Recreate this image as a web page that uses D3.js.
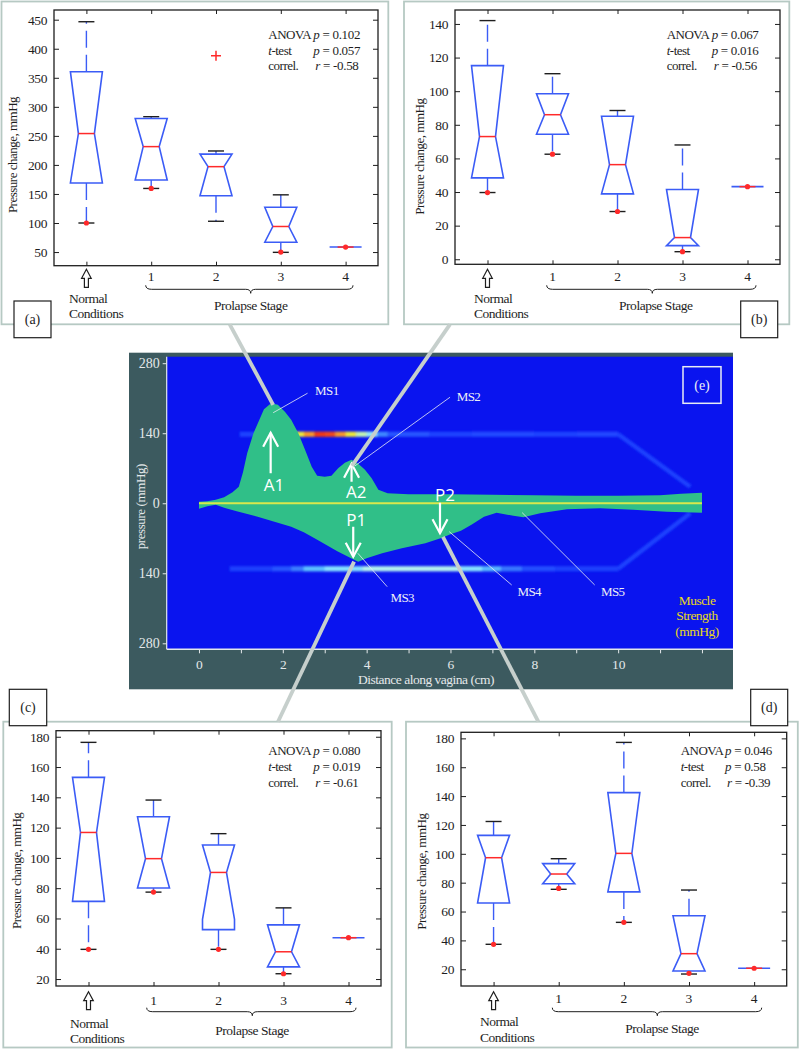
<!DOCTYPE html>
<html><head><meta charset="utf-8">
<script src="https://cdn.jsdelivr.net/npm/d3@7"></script>
<style>body{margin:0;background:#fff} svg{display:block}</style>
</head><body><svg id="fig" width="799" height="1050"></svg>
<script>
// ---------------- DATA ----------------
const catKeys = ["N", "1", "2", "3", "4"];
const catLabels = ["", "1", "2", "3", "4"];
const statNames = ["ANOVA", "t-test", "correl."];

// panel (a)
const aLow = [100, 159.5, 103, 49.5, 58.6];
const aQ1 = [169, 174, 147, 67, 58.6];
const aMed = [254, 231.5, 197, 94, 58.6];
const aQ3 = [360.5, 280, 218.5, 127, 58.6];
const aHigh = [446.5, 283, 224, 148.5, 58.6];
const aNotchLo = [169, 174, 147, 67, 58.6];
const aNotchHi = [360.5, 280, 218.5, 127, 58.6];
const aDotCat = [0, 1, 3, 4];
const aDotVal = [100, 159.5, 50, 58.6];
const aOutCat = [2];
const aOutVal = [388];
const aTicks = [50, 100, 150, 200, 250, 300, 350, 400, 450];
const aStats = ["0.102", "0.057", "-0.58"];

// panel (b)
const bLow = [39.7, 62.5, 28.4, 4.5, 43.2];
const bQ1 = [48.4, 74.4, 38.9, 8.1, 43.2];
const bMed = [73, 86, 56.3, 12.9, 43.2];
const bQ3 = [115.2, 98.5, 85.1, 41.5, 43.2];
const bHigh = [142, 110.4, 88.5, 68, 43.2];
const bNotchLo = [48.4, 74.4, 38.9, 8.1, 43.2];
const bNotchHi = [115.2, 98.5, 85.1, 41.5, 43.2];
const bDotCat = [0, 1, 2, 3, 4];
const bDotVal = [39.7, 62.5, 28.4, 4.5, 43.2];
const bOutCat = [];
const bOutVal = [];
const bTicks = [0, 20, 40, 60, 80, 100, 120, 140];
const bStats = ["0.067", "0.016", "-0.56"];

// panel (c)
const cLow = [39.6, 77.4, 39.6, 23.5, 47.3];
const cQ1 = [71.3, 80.1, 52.6, 28, 47.3];
const cMed = [116.8, 99.5, 90.4, 38, 47.3];
const cQ3 = [153.2, 127.2, 108.5, 55.8, 47.3];
const cHigh = [176.3, 138.2, 116, 67, 47.3];
const cNotchLo = [71.3, 80.1, 59.4, 28, 47.3];
const cNotchHi = [153.2, 127.2, 108.5, 55.8, 47.3];
const cDotCat = [0, 1, 2, 3, 4];
const cDotVal = [39.6, 77.4, 39.6, 23.5, 47.3];
const cOutCat = [];
const cOutVal = [];
const cTicks = [20, 40, 60, 80, 100, 120, 140, 160, 180];
const cStats = ["0.080", "0.019", "-0.61"];

// panel (d)
const dLow = [37.3, 75.4, 52.5, 16.7, 20.7];
const dQ1 = [65.9, 79.3, 73.6, 18.8, 20.7];
const dMed = [97.3, 86, 100.3, 30.8, 20.7];
const dQ3 = [112.8, 93.2, 142.4, 57.1, 20.7];
const dHigh = [122.4, 96.6, 177.2, 74.9, 20.7];
const dNotchLo = [65.9, 79.3, 73.6, 18.8, 20.7];
const dNotchHi = [112.8, 93.2, 142.4, 57.1, 20.7];
const dDotCat = [0, 1, 2, 3, 4];
const dDotVal = [37.3, 76, 52.5, 17.2, 20.7];
const dOutCat = [];
const dOutVal = [];
const dTicks = [20, 40, 60, 80, 100, 120, 140, 160, 180];
const dStats = ["0.046", "0.58", "-0.39"];

// panel (e): pressure profile along the vagina
const upperDist = [0, 0.2, 0.4, 0.6, 0.8, 0.95, 1.05, 1.15, 1.3, 1.42, 1.55, 1.72, 1.88, 2.05, 2.2, 2.37, 2.53, 2.69, 2.82, 3.0, 3.16, 3.32, 3.48, 3.64, 3.8, 3.96, 4.12, 4.28, 4.5, 5.0, 6.0, 7.0, 8.0, 9.0, 10.0, 11.0, 11.5, 12.0];
const upperP = [3, 4, 7, 12, 22, 33, 62, 100, 140, 163, 188, 200, 197, 183, 167, 140, 107, 73, 55, 53, 55, 70, 81, 87, 79, 67, 50, 27, 20, 18, 18, 17, 16, 15, 15, 16, 19, 21];
const lowerDist = [0, 0.2, 0.4, 0.6, 0.9, 1.4, 1.8, 2.2, 2.5, 2.8, 3.3, 3.7, 3.8, 4.0, 4.37, 4.84, 5.4, 5.8, 6.0, 6.25, 6.5, 6.8, 7.1, 7.5, 7.74, 8.14, 8.78, 9.57, 10.36, 11.16, 12.0];
const lowerP = [-11, -6, -3, -9, -16, -27, -37, -47, -58, -72, -96, -113, -117, -110, -100, -90, -80, -69, -62, -55, -43, -27, -19, -25, -28, -20, -12, -10, -13, -17, -19];

// muscle strength bands (cm start, strength)
const upperBandStart = [0.97, 2.25, 2.5, 2.75, 3.0, 3.25, 3.5, 3.75, 4.0, 4.25, 4.5, 5.5, 6.5, 8.0, 9.0];
const upperBandValue = [13, 100, 118, 138, 135, 118, 100, 78, 58, 32, 18, 13, 15, 13, 14];
const lowerBandStart = [0.73, 1.75, 2.2, 2.5, 3.0, 3.9, 6.25, 6.75, 7.2, 7.7, 8.5];
const lowerBandValue = [12, 18, 30, 46, 56, 64, 56, 44, 28, 16, 12];
const bandEnd = 10;

const eXTicks = [0, 1, 2, 3, 4, 5, 6, 7, 8, 9, 10, 11, 12];
const eXLabels = [0, 2, 4, 6, 8, 10];
const eYTicks = [280, 140, 0, -140, -280];

const arrowLabels = ["A1", "A2", "P1", "P2"];
const arrowDist = [1.71, 3.64, 3.68, 5.75];
const arrowFrom = [60, 43, -47, 1];
const arrowTo = [141, 79, -107, -60];
const arrowLabelDist = [1.79, 3.75, 3.75, 5.87];
const arrowLabelP = [37, 23, -33, 17];

const msLabels = ["MS1", "MS2", "MS3", "MS4", "MS5"];
const msLabelDist = [2.77, 6.15, 4.57, 7.6, 9.59];
const msLabelP = [224.6, 213, -188.8, -175.4, -175.4];
const msFromDist = [2.59, 5.99, 4.49, 7.46, 9.44];
const msFromP = [220, 212, -166.8, -163.4, -163.4];
const msToDist = [1.77, 3.72, 3.79, 5.97, 7.71];
const msToP = [181, 74.6, -100, -56.8, -18.8];

const connDist = [1.77, 3.65, 3.7, 5.82];
const connP = [196.6, 74.6, -116.8, -67.4];

// ---------------- DRAWING ----------------
const SERIF = "'Liberation Serif','Times New Roman',serif";
const svg = d3.select("#fig");
svg.append("rect").attr("width", 799).attr("height", 1050).attr("fill", "#fff");
const defs = svg.append("defs");
defs.append("filter").attr("id", "soft").attr("x", "-5%").attr("y", "-100%").attr("width", "110%").attr("height", "300%")
  .append("feGaussianBlur").attr("stdDeviation", 0.8);

const BOXBLUE = "#3b5cf6", RED = "#ff2a2a", INK = "#1e1e1e";

function boxPanel(P, L) {
  const g = svg.append("g").attr("font-family", SERIF);
  g.append("rect").attr("x", L.frame[0]).attr("y", L.frame[1])
    .attr("width", L.frame[2] - L.frame[0]).attr("height", L.frame[3] - L.frame[1])
    .attr("fill", "none").attr("stroke", "#b6c9c3").attr("stroke-width", 1.8);
  const [l, t, r, b] = L.plot;
  const x = d3.scalePoint().domain(catKeys).range([l, r]).padding(0.5);
  const y = d3.scaleLinear().domain(L.yDomain).range([b, t]);

  const axL = g.append("g").attr("transform", `translate(${l},0)`)
    .call(d3.axisLeft(y).tickValues(P.ticks).tickSizeInner(-5).tickSizeOuter(0).tickPadding(7));
  const axR = g.append("g").attr("transform", `translate(${r},0)`)
    .call(d3.axisRight(y).tickValues(P.ticks).tickSizeInner(-5).tickSizeOuter(0).tickFormat(""));
  const axT = g.append("g").attr("transform", `translate(0,${t})`)
    .call(d3.axisTop(x).tickSizeInner(-4).tickSizeOuter(0).tickFormat(""));
  const axB = g.append("g").attr("transform", `translate(0,${b})`)
    .call(d3.axisBottom(x).tickSizeInner(-4).tickSizeOuter(0).tickFormat(""));
  [axL, axR, axT, axB].forEach(a => {
    a.select(".domain").remove();
    a.selectAll("line").attr("stroke", INK).attr("stroke-width", 1);
    a.selectAll("text").attr("font-family", SERIF).attr("font-size", 13.5).attr("fill", INK).attr("letter-spacing", -0.4);
  });
  g.append("rect").attr("x", l).attr("y", t).attr("width", r - l).attr("height", b - t)
    .attr("fill", "none").attr("stroke", INK).attr("stroke-width", 1.3);

  // category labels
  catKeys.forEach((k, i) => {
    if (catLabels[i]) g.append("text").attr("x", x(k)).attr("y", L.xLabY).attr("text-anchor", "middle")
      .attr("font-size", 13.5).attr("fill", INK).text(catLabels[i]);
  });

  // boxes
  const hw = 16, nw = 8, cw = 8;
  catKeys.forEach((k, i) => {
    const cx = x(k);
    const q1 = y(P.q1[i]), q3 = y(P.q3[i]), md = y(P.med[i]), nl = y(P.nlo[i]), nh = y(P.nhi[i]);
    const hi = y(P.high[i]), lo = y(P.low[i]);
    // whiskers
    if (P.high[i] > P.q3[i]) {
      g.append("line").attr("x1", cx).attr("x2", cx).attr("y1", q3).attr("y2", hi)
        .attr("stroke", BOXBLUE).attr("stroke-width", 1.4).attr("stroke-dasharray", "17,7");
      g.append("line").attr("x1", cx - cw).attr("x2", cx + cw).attr("y1", hi).attr("y2", hi)
        .attr("stroke", INK).attr("stroke-width", 1.4);
    }
    if (P.low[i] < P.q1[i]) {
      g.append("line").attr("x1", cx).attr("x2", cx).attr("y1", q1).attr("y2", lo)
        .attr("stroke", BOXBLUE).attr("stroke-width", 1.4).attr("stroke-dasharray", "17,7");
      g.append("line").attr("x1", cx - cw).attr("x2", cx + cw).attr("y1", lo).attr("y2", lo)
        .attr("stroke", INK).attr("stroke-width", 1.4);
    }
    const pts = [[cx - hw, q3], [cx + hw, q3], [cx + hw, nh], [cx + nw, md], [cx + hw, nl], [cx + hw, q1],
                 [cx - hw, q1], [cx - hw, nl], [cx - nw, md], [cx - hw, nh]];
    g.append("path").attr("d", d3.line()(pts) + "Z").attr("fill", "none")
      .attr("stroke", BOXBLUE).attr("stroke-width", 1.6).attr("stroke-linejoin", "miter");
    g.append("line").attr("x1", cx - nw).attr("x2", cx + nw).attr("y1", md).attr("y2", md)
      .attr("stroke", RED).attr("stroke-width", 1.5);
  });
  // red dots
  P.dotCat.forEach((c, i) => {
    g.append("circle").attr("cx", x(catKeys[c])).attr("cy", y(P.dotVal[i])).attr("r", 2.6).attr("fill", RED);
  });
  // outliers
  P.outCat.forEach((c, i) => {
    const cx = x(catKeys[c]), cy = y(P.outVal[i]);
    g.append("path").attr("d", `M${cx - 5},${cy}H${cx + 5}M${cx},${cy - 5}V${cy + 5}`)
      .attr("stroke", RED).attr("stroke-width", 1.5);
  });

  // stats text
  const sx = L.statX, sy = L.statY;
  const rowFs = 13;
  const t1 = g.append("text").attr("x", sx).attr("y", sy).attr("font-size", rowFs).attr("fill", INK).attr("letter-spacing", -0.5);
  t1.append("tspan").text("ANOVA");
  const t1b = g.append("text").attr("x", sx + L.col2).attr("y", sy).attr("font-size", rowFs).attr("fill", INK).attr("letter-spacing", -0.3);
  t1b.append("tspan").attr("font-style", "italic").text("p");
  t1b.append("tspan").text(" = " + P.stats[0]);
  const t2 = g.append("text").attr("x", sx).attr("y", sy + 16).attr("font-size", rowFs).attr("fill", INK).attr("letter-spacing", -0.5);
  t2.append("tspan").attr("font-style", "italic").text("t");
  t2.append("tspan").text("-test");
  const t2b = g.append("text").attr("x", sx + L.col2).attr("y", sy + 16).attr("font-size", rowFs).attr("fill", INK).attr("letter-spacing", -0.3);
  t2b.append("tspan").attr("font-style", "italic").text("p");
  t2b.append("tspan").text(" = " + P.stats[1]);
  g.append("text").attr("x", sx).attr("y", sy + 31.5).attr("font-size", rowFs).attr("fill", INK).attr("letter-spacing", -0.5).text(statNames[2]);
  const t3b = g.append("text").attr("x", sx + L.col2 + 2).attr("y", sy + 31.5).attr("font-size", rowFs).attr("fill", INK).attr("letter-spacing", -0.3);
  t3b.append("tspan").attr("font-style", "italic").text("r");
  t3b.append("tspan").text(" = " + P.stats[2]);

  // y label
  g.append("text").attr("transform", `translate(${L.yLab[0]},${L.yLab[1]}) rotate(-90)`)
    .attr("text-anchor", "middle").attr("dy", "0.35em").attr("font-size", 13).attr("letter-spacing", -0.5)
    .attr("fill", INK).text("Pressure change, mmHg");

  // normal arrow
  const ax0 = x("N"), at = L.arrowTop;
  g.append("path").attr("d", `M${ax0},${at}L${ax0 + 4.8},${at + 9}L${ax0 + 2},${at + 9}L${ax0 + 2},${at + 18}L${ax0 - 2},${at + 18}L${ax0 - 2},${at + 9}L${ax0 - 4.8},${at + 9}Z`)
    .attr("fill", "#fff").attr("stroke", INK).attr("stroke-width", 1.2);
  g.append("text").attr("x", L.normX).attr("y", L.normY).attr("font-size", 13.5).attr("fill", INK).attr("letter-spacing", -0.5).text("Normal");
  g.append("text").attr("x", L.normX).attr("y", L.normY + 15.5).attr("font-size", 13.5).attr("fill", INK).attr("letter-spacing", -0.5).text("Conditions");

  // brace
  const [bx1, bxc, bx2, by] = L.brace;
  g.append("path").attr("d", `M${bx1},${by - 4}Q${bx1},${by} ${bx1 + 6},${by}L${bxc - 5},${by}Q${bxc},${by} ${bxc},${by + 4}Q${bxc},${by} ${bxc + 5},${by}L${bx2 - 6},${by}Q${bx2},${by} ${bx2},${by - 4}`)
    .attr("fill", "none").attr("stroke", INK).attr("stroke-width", 1);
  g.append("text").attr("x", L.prolX).attr("y", L.prolY).attr("text-anchor", "middle").attr("font-size", 13.5)
    .attr("fill", INK).attr("letter-spacing", -0.45).text("Prolapse Stage");

  // label box
  const lb = L.labBox;
  g.append("rect").attr("x", lb[0]).attr("y", lb[1]).attr("width", lb[2]).attr("height", lb[3])
    .attr("fill", "#fff").attr("stroke", INK).attr("stroke-width", 1.2);
  g.append("text").attr("x", lb[0] + lb[2] / 2).attr("y", lb[1] + lb[3] / 2).attr("dy", "0.35em")
    .attr("text-anchor", "middle").attr("font-size", 14).attr("fill", INK).text(L.name);
}

boxPanel({low: aLow, q1: aQ1, med: aMed, q3: aQ3, high: aHigh, nlo: aNotchLo, nhi: aNotchHi, dotCat: aDotCat, dotVal: aDotVal, outCat: aOutCat, outVal: aOutVal, ticks: aTicks, stats: aStats},
  {name: "(a)", frame: [1.5, 1.5, 388.3, 324.3], plot: [54, 10, 378, 265.7], yDomain: [26.5, 466.7], xLabY: 280.5,
   statX: 268.3, statY: 38.5, col2: 45, yLab: [12.5, 155], arrowTop: 269.3, normX: 69, normY: 302.8,
   brace: [145.7, 250.7, 353, 289.3], prolX: 250.7, prolY: 309.5, labBox: [14, 301, 37, 36.7]});
boxPanel({low: bLow, q1: bQ1, med: bMed, q3: bQ3, high: bHigh, nlo: bNotchLo, nhi: bNotchHi, dotCat: bDotCat, dotVal: bDotVal, outCat: bOutCat, outVal: bOutVal, ticks: bTicks, stats: bStats},
  {name: "(b)", frame: [404, 1.5, 789.3, 324.3], plot: [455, 10, 780, 264.3], yDomain: [-3, 148.3], xLabY: 280.5,
   statX: 666.7, statY: 38.5, col2: 45, yLab: [419.5, 156.7], arrowTop: 269.3, normX: 474, normY: 302.8,
   brace: [546.7, 652.3, 756, 289.3], prolX: 655.8, prolY: 309.5, labBox: [740.7, 301, 37, 36.7]});
boxPanel({low: cLow, q1: cQ1, med: cMed, q3: cQ3, high: cHigh, nlo: cNotchLo, nhi: cNotchHi, dotCat: cDotCat, dotVal: cDotVal, outCat: cOutCat, outVal: cOutVal, ticks: cTicks, stats: cStats},
  {name: "(c)", frame: [3.3, 721.7, 391.7, 1047.5], plot: [56, 730.7, 381, 986], yDomain: [15.4, 184], xLabY: 1004.5,
   statX: 268.3, statY: 755, col2: 45, yLab: [16, 870.8], arrowTop: 991.7, normX: 70, normY: 1027.8,
   brace: [146.7, 252.3, 356, 1011.7], prolX: 252, prolY: 1035.2, labBox: [9.3, 689.3, 37.4, 36.4]});
boxPanel({low: dLow, q1: dQ1, med: dMed, q3: dQ3, high: dHigh, nlo: dNotchLo, nhi: dNotchHi, dotCat: dDotCat, dotVal: dDotVal, outCat: dOutCat, outVal: dOutVal, ticks: dTicks, stats: dStats},
  {name: "(d)", frame: [406, 721.7, 797.8, 1047.5], plot: [461, 732.3, 786.7, 986], yDomain: [8.4, 184.2], xLabY: 1003,
   statX: 680.7, statY: 755, col2: 44.3, yLab: [421, 871.7], arrowTop: 991.7, normX: 480, normY: 1026,
   brace: [552.3, 657.3, 761.7, 1011.7], prolX: 662, prolY: 1032.8, labBox: [750.7, 689.3, 37, 36.4]});

// ---------------- PANEL (e) ----------------
const E = svg.append("g").attr("font-family", SERIF);
const ePlot = [166.7, 356.7, 733, 649.3];
E.append("rect").attr("x", 129).attr("y", 352.7).attr("width", 733 - 129).attr("height", 689.3 - 352.7).attr("fill", "#3c5a5f");
E.append("rect").attr("x", ePlot[0]).attr("y", ePlot[1]).attr("width", ePlot[2] - ePlot[0]).attr("height", ePlot[3] - ePlot[1]).attr("fill", "#0a14ef");
const xE = d3.scaleLinear().domain([-0.77, 12.74]).range([ePlot[0], ePlot[2]]);
const yE = d3.scaleLinear().domain([-292, 293]).range([ePlot[3], ePlot[1]]);

const strengthColor = d3.scaleLinear()
  .domain([0, 14, 30, 46, 56, 64, 80, 100, 118, 138])
  .range(["#0a14ef", "#2046ff", "#3a7eff", "#5cc0ff", "#86e2ff", "#b4f2ee", "#c4f4a8", "#ece83a", "#f7962a", "#f03818"]).clamp(true);

// bands
const bandG = E.append("g").attr("filter", "url(#soft)");
function band(starts, vals, pc) {
  starts.forEach((s, i) => {
    const e = i < starts.length - 1 ? starts[i + 1] : bandEnd;
    bandG.append("rect").attr("x", xE(s)).attr("y", yE(pc) - 2.6).attr("width", xE(e) - xE(s) + 0.3).attr("height", 5.2)
      .attr("fill", strengthColor(vals[i]));
  });
}
band(upperBandStart, upperBandValue, 138);
band(lowerBandStart, lowerBandValue, -131);
bandG.append("path").attr("d", d3.line()([[xE(bandEnd), yE(138)], [xE(11.72), yE(33)]]))
  .attr("stroke", strengthColor(13)).attr("stroke-width", 4.5).attr("fill", "none");
bandG.append("path").attr("d", d3.line()([[xE(bandEnd), yE(-131)], [xE(11.72), yE(-20)]]))
  .attr("stroke", strengthColor(13)).attr("stroke-width", 4.5).attr("fill", "none");

// green pressure area
const outline = upperDist.map((d, i) => [d, upperP[i]]).concat(lowerDist.map((d, i) => [d, lowerP[i]]).reverse());
E.append("path").attr("d", d3.line().x(d => xE(d[0])).y(d => yE(d[1]))(outline) + "Z").attr("fill", "#30bf88");
// yellow zero line
E.append("line").attr("x1", xE(0)).attr("x2", xE(12)).attr("y1", yE(0)).attr("y2", yE(0)).attr("stroke", "#d8e84c").attr("stroke-width", 2);

// axes
const LIGHT = "#e4e8ea";
const eyAx = E.append("g").attr("transform", `translate(${ePlot[0]},0)`)
  .call(d3.axisLeft(yE).tickValues(eYTicks).tickSizeInner(4).tickSizeOuter(0).tickPadding(3).tickFormat(d => Math.abs(d)));
const exAx = E.append("g").attr("transform", `translate(0,${ePlot[3]})`)
  .call(d3.axisBottom(xE).tickValues(eXTicks).tickSizeInner(4).tickSizeOuter(0).tickPadding(6).tickFormat(d => eXLabels.includes(d) ? d : ""));
[eyAx, exAx].forEach(a => {
  a.select(".domain").remove();
  a.selectAll("line").attr("stroke", LIGHT).attr("stroke-width", 1);
  a.selectAll("text").attr("font-family", SERIF).attr("font-size", 14).attr("fill", LIGHT);
});
exAx.selectAll("text").attr("font-size", 13.5);
E.append("line").attr("x1", ePlot[0]).attr("x2", ePlot[2]).attr("y1", ePlot[3]).attr("y2", ePlot[3]).attr("stroke", LIGHT).attr("stroke-width", 1.5);
E.append("line").attr("x1", ePlot[0]).attr("x2", ePlot[0]).attr("y1", ePlot[1]).attr("y2", ePlot[3]).attr("stroke", LIGHT).attr("stroke-width", 1.2);
E.append("text").attr("x", 426).attr("y", 684).attr("text-anchor", "middle").attr("font-size", 13.5).attr("letter-spacing", -0.5)
  .attr("fill", LIGHT).text("Distance along vagina (cm)");
E.append("text").attr("transform", "translate(140,506.7) rotate(-90)").attr("text-anchor", "middle").attr("dy", "0.35em")
  .attr("font-size", 13).attr("letter-spacing", -0.4).attr("fill", LIGHT).text("pressure (mmHg)");

// (e) box
E.append("rect").attr("x", 683).attr("y", 366.7).attr("width", 38).attr("height", 36.6).attr("fill", "none").attr("stroke", "#e8ecf4").attr("stroke-width", 1.5);
E.append("text").attr("x", 702).attr("y", 385).attr("dy", "0.35em").attr("text-anchor", "middle").attr("font-size", 14).attr("fill", "#eef0f6").text("(e)");

// muscle strength legend text
["Muscle", "Strength", "(mmHg)"].forEach((s, i) => {
  E.append("text").attr("x", 697).attr("y", 604.5 + i * 15.5).attr("text-anchor", "middle").attr("font-size", 13.5)
    .attr("letter-spacing", -0.5).attr("fill", "#e8d820").text(s);
});

// MS labels and leader lines
msLabels.forEach((s, i) => {
  E.append("line").attr("x1", xE(msFromDist[i])).attr("y1", yE(msFromP[i])).attr("x2", xE(msToDist[i])).attr("y2", yE(msToP[i]))
    .attr("stroke", "#e8ecf4").attr("stroke-width", 0.8);
  E.append("text").attr("x", xE(msLabelDist[i])).attr("y", yE(msLabelP[i])).attr("dy", "0.35em").attr("font-size", 13)
    .attr("letter-spacing", -0.6).attr("fill", "#eef0f6").text(s);
});

// A/P arrows
arrowLabels.forEach((s, i) => {
  const ax = xE(arrowDist[i]), y0 = yE(arrowFrom[i]), y1 = yE(arrowTo[i]);
  const dir = y1 < y0 ? 1 : -1;
  E.append("line").attr("x1", ax).attr("x2", ax).attr("y1", y0).attr("y2", y1).attr("stroke", "#fff").attr("stroke-width", 2.2);
  E.append("path").attr("d", `M${ax - 7.5},${y1 + dir * 14}L${ax},${y1}L${ax + 7.5},${y1 + dir * 14}`)
    .attr("fill", "none").attr("stroke", "#fff").attr("stroke-width", 2.2);
  E.append("text").attr("x", xE(arrowLabelDist[i])).attr("y", yE(arrowLabelP[i])).attr("dy", "0.36em").attr("text-anchor", "middle")
    .attr("font-family", "'Open Sans','DejaVu Sans',sans-serif").attr("font-size", 17).attr("fill", "#fff").text(s);
});

// connector lines from box-plot panels to the pressure profile
const connOuter = [[229.7, 324.3], [450, 324.3], [278, 721.7], [538.3, 721.7]];
connDist.forEach((d, i) => {
  svg.append("line").attr("x1", connOuter[i][0]).attr("y1", connOuter[i][1]).attr("x2", xE(d)).attr("y2", yE(connP[i]))
    .attr("stroke", "#c6cfcc").attr("stroke-width", 3.8).attr("stroke-linecap", "butt");
});
</script></body></html>
